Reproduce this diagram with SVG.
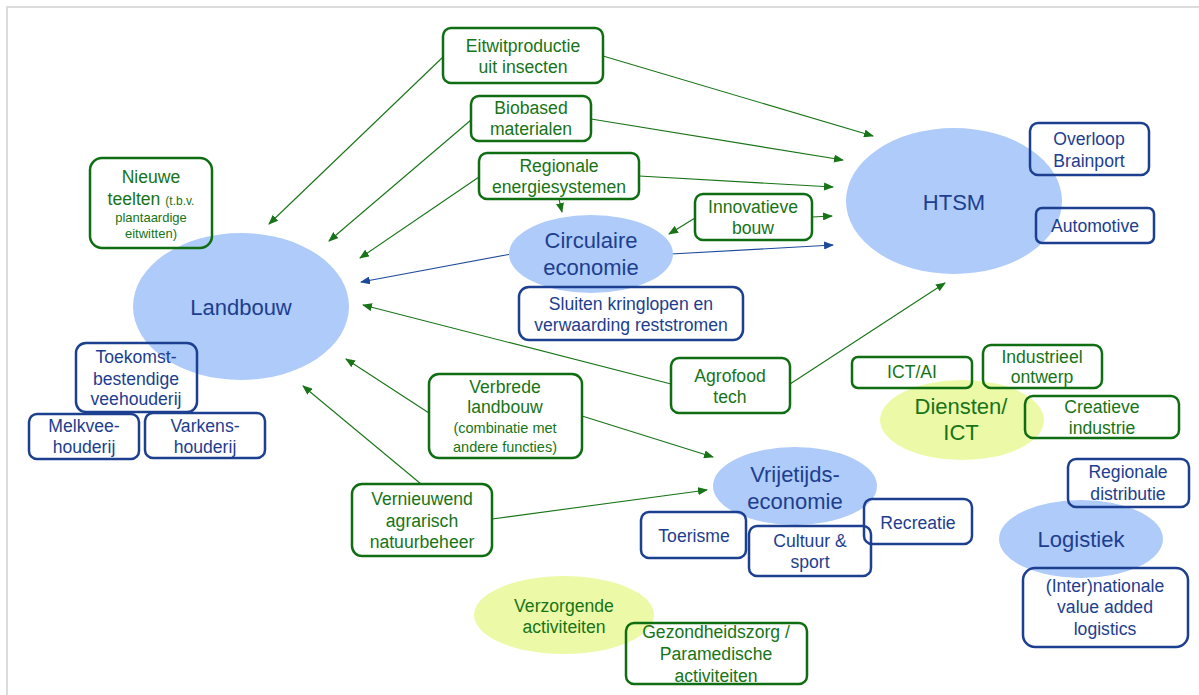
<svg xmlns="http://www.w3.org/2000/svg" width="1199" height="695" viewBox="0 0 1199 695">
<defs>
<style>
text{font-family:"Liberation Sans",Arial,sans-serif;text-anchor:middle}
.g{fill:#177417}
.b{fill:#1d3e8e}
.gb{fill:none;stroke:#0f6e12;stroke-width:2.5}
.bb{fill:none;stroke:#1c3f8f;stroke-width:2.5}
.be{fill:#aecbfa}
.ye{fill:#ecfaa8}
.t17{font-size:17.6px}
.t22{font-size:22px}
.cg{stroke:#177417;stroke-width:1.1;fill:none;marker-end:url(#ag)}
.cb{stroke:#1d4a9a;stroke-width:1.1;fill:none;marker-end:url(#ab)}
</style>
<marker id="ag" markerUnits="userSpaceOnUse" markerWidth="10" markerHeight="8" refX="9" refY="4" orient="auto"><path d="M0,0 L10,4 L0,8 Z" fill="#177417"/></marker>
<marker id="ab" markerUnits="userSpaceOnUse" markerWidth="10" markerHeight="8" refX="9" refY="4" orient="auto"><path d="M0,0 L10,4 L0,8 Z" fill="#1d4a9a"/></marker>
</defs>
<rect width="1199" height="695" fill="#fff"/>
<rect x="7" y="7" width="1200" height="700" fill="none" stroke="#dcdcdc" stroke-width="2"/>

<g id="connectors">
<line class="cg" x1="443" y1="57" x2="269" y2="224"/>
<line class="cg" x1="603" y1="56" x2="873" y2="136"/>
<line class="cg" x1="471" y1="120" x2="329" y2="241"/>
<line class="cg" x1="591" y1="119" x2="843" y2="160"/>
<line class="cg" x1="479" y1="177" x2="360" y2="258"/>
<line class="cg" x1="639" y1="176" x2="833" y2="187"/>
<line class="cg" x1="559" y1="199" x2="562" y2="212"/>
<line class="cg" x1="695" y1="218" x2="669" y2="234"/>
<line class="cg" x1="812" y1="217" x2="832" y2="216"/>
<line class="cb" x1="511" y1="254" x2="361" y2="282"/>
<line class="cb" x1="671" y1="254" x2="833" y2="245"/>
<line class="cg" x1="671" y1="384" x2="363" y2="305"/>
<line class="cg" x1="790" y1="384" x2="945" y2="283"/>
<line class="cg" x1="429" y1="413" x2="346" y2="359"/>
<line class="cg" x1="582" y1="416" x2="713" y2="457"/>
<line class="cg" x1="421" y1="484" x2="303" y2="386"/>
<line class="cg" x1="492" y1="519" x2="707" y2="490"/>
</g>

<g id="landbouw"><ellipse class="be" cx="241" cy="306.5" rx="108" ry="73.5"/><text class="b t22" x="241" y="315">Landbouw</text></g>
<g id="htsm"><ellipse class="be" cx="954" cy="201" rx="108" ry="73"/><text class="b t22" x="954" y="210">HTSM</text></g>
<g id="circulaire"><ellipse class="be" cx="591" cy="254" rx="82" ry="39"/><text class="b t22" x="591" y="248">Circulaire</text><text class="b t22" x="591" y="275">economie</text></g>
<g id="diensten"><ellipse class="ye" cx="962" cy="420" rx="82" ry="40"/><text class="g t22" x="961" y="414">Diensten/</text><text class="g t22" x="961" y="440">ICT</text></g>
<g id="vrijetijd"><ellipse class="be" cx="795" cy="486" rx="82" ry="39"/><text class="b t22" x="795" y="482">Vrijetijds-</text><text class="b t22" x="795" y="509">economie</text></g>
<g id="logistiek"><ellipse class="be" cx="1081" cy="539" rx="82" ry="39"/><text class="b t22" x="1081" y="547">Logistiek</text></g>
<g id="verzorgende"><ellipse class="ye" cx="564" cy="615" rx="90" ry="39"/><text class="g t17" x="564" y="612">Verzorgende</text><text class="g t17" x="564" y="633">activiteiten</text></g>

<g id="eitwit"><rect class="gb" x="443" y="28" width="160" height="55" rx="8"/><text class="g t17" x="523" y="52">Eitwitproductie</text><text class="g t17" x="523" y="73">uit insecten</text></g>
<g id="biobased"><rect class="gb" x="471" y="96" width="120" height="45" rx="8"/><text class="g t17" x="531" y="114">Biobased</text><text class="g t17" x="531" y="135">materialen</text></g>
<g id="regionale-energie"><rect class="gb" x="479" y="153" width="160" height="46" rx="8"/><text class="g t17" x="559" y="172">Regionale</text><text class="g t17" x="559" y="193">energiesystemen</text></g>
<g id="innovatieve"><rect class="gb" x="695" y="194" width="117" height="46" rx="8"/><text class="g t17" x="753" y="213">Innovatieve</text><text class="g t17" x="753" y="234">bouw</text></g>
<g id="nieuwe-teelten"><rect class="gb" x="90" y="158" width="122" height="90" rx="12"/><text class="g t17" x="151" y="183">Nieuwe</text><text class="g" x="151" y="205"><tspan font-size="17.6">teelten </tspan><tspan font-size="12">(t.b.v.</tspan></text><text class="g" font-size="13" x="151" y="222">plantaardige</text><text class="g" font-size="13" x="151" y="238">eitwitten)</text></g>
<g id="agrofood"><rect class="gb" x="671" y="358" width="119" height="55" rx="8"/><text class="g t17" x="730" y="382">Agrofood</text><text class="g t17" x="730" y="403">tech</text></g>
<g id="verbrede"><rect class="gb" x="429" y="374" width="153" height="84" rx="10"/><text class="g t17" x="505" y="393">Verbrede</text><text class="g t17" x="505" y="413">landbouw</text><text class="g" font-size="14.5" x="505" y="433">(combinatie met</text><text class="g" font-size="14.5" x="505" y="452">andere functies)</text></g>
<g id="vernieuwend"><rect class="gb" x="352" y="484" width="140" height="72" rx="10"/><text class="g t17" x="422" y="505">Vernieuwend</text><text class="g t17" x="422" y="527">agrarisch</text><text class="g t17" x="422" y="548">natuurbeheer</text></g>
<g id="gezondheid"><rect class="gb" x="626" y="623" width="181" height="61" rx="8"/><text class="g t17" x="716" y="638">Gezondheidszorg /</text><text class="g t17" x="716" y="660">Paramedische</text><text class="g t17" x="716" y="682">activiteiten</text></g>
<g id="ict-ai"><rect class="gb" x="852" y="357" width="120" height="31" rx="6"/><text class="g t17" x="912" y="378">ICT/AI</text></g>
<g id="industrieel"><rect class="gb" x="983" y="345" width="119" height="43" rx="8"/><text class="g t17" x="1042" y="363">Industrieel</text><text class="g t17" x="1042" y="383">ontwerp</text></g>
<g id="creatieve"><rect class="gb" x="1025" y="396" width="154" height="42" rx="8"/><text class="g t17" x="1102" y="413">Creatieve</text><text class="g t17" x="1102" y="434">industrie</text></g>

<g id="overloop"><rect class="bb" x="1030" y="123" width="119" height="52" rx="8"/><text class="b t17" x="1089" y="145">Overloop</text><text class="b t17" x="1089" y="167">Brainport</text></g>
<g id="automotive"><rect class="bb" x="1036" y="208" width="118" height="35" rx="6"/><text class="b t17" x="1095" y="232">Automotive</text></g>
<g id="sluiten"><rect class="bb" x="519" y="287" width="224" height="53" rx="10"/><text class="b t17" x="631" y="310">Sluiten kringlopen en</text><text class="b t17" x="631" y="331">verwaarding reststromen</text></g>
<g id="toekomst"><rect class="bb" x="76" y="343" width="121" height="69" rx="10"/><text class="b t17" x="136" y="363">Toekomst-</text><text class="b t17" x="136" y="385">bestendige</text><text class="b t17" x="136" y="405">veehouderij</text></g>
<g id="melkvee"><rect class="bb" x="29" y="414" width="110" height="45" rx="8"/><text class="b t17" x="84" y="432">Melkvee-</text><text class="b t17" x="84" y="453">houderij</text></g>
<g id="varkens"><rect class="bb" x="145" y="413" width="120" height="45" rx="8"/><text class="b t17" x="205" y="432">Varkens-</text><text class="b t17" x="205" y="453">houderij</text></g>
<g id="toerisme"><rect class="bb" x="641" y="512" width="105" height="46" rx="8"/><text class="b t17" x="694" y="542">Toerisme</text></g>
<g id="cultuur"><rect class="bb" x="749" y="526" width="122" height="50" rx="8"/><text class="b t17" x="810" y="547">Cultuur &amp;</text><text class="b t17" x="810" y="568">sport</text></g>
<g id="recreatie"><rect class="bb" x="864" y="499" width="108" height="45" rx="8"/><text class="b t17" x="918" y="529">Recreatie</text></g>
<g id="regionale-distributie"><rect class="bb" x="1068" y="459" width="121" height="48" rx="8"/><text class="b t17" x="1128" y="478">Regionale</text><text class="b t17" x="1128" y="500">distributie</text></g>
<g id="internationale"><rect class="bb" x="1023" y="568" width="165" height="79" rx="12"/><text class="b t17" x="1105" y="592">(Inter)nationale</text><text class="b t17" x="1105" y="613">value added</text><text class="b t17" x="1105" y="635">logistics</text></g>
</svg>
